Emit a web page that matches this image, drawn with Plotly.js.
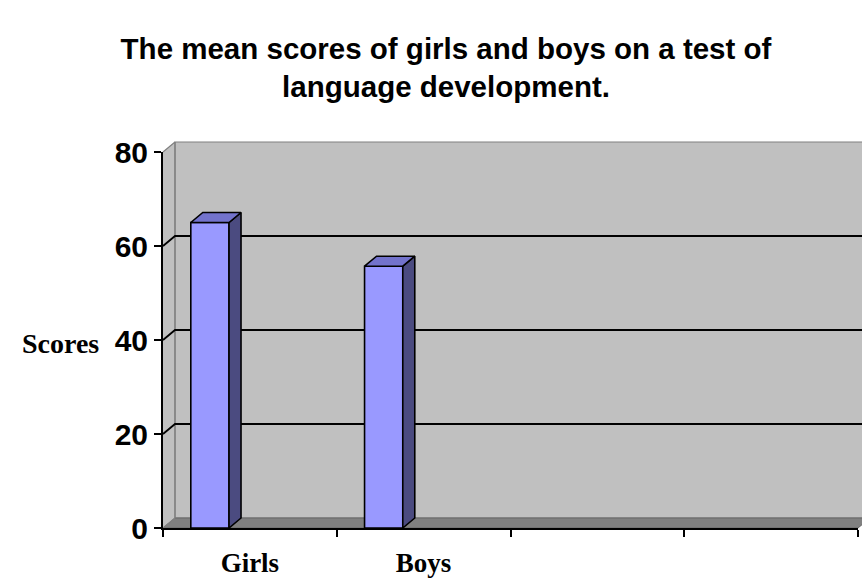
<!DOCTYPE html>
<html>
<head>
<meta charset="utf-8">
<script src="https://cdn.plot.ly/plotly-3.0.1.min.js"></script>
<style>html,body{margin:0;padding:0;background:#fff;}#chart{width:862px;height:580px;}</style>
</head>
<body>
<div id="chart"></div>
<script>
// ---- data ----
const categories = ['Girls', 'Boys'];
const scores = [65, 55.7];
const yTicks = [0, 20, 40, 60, 80];
const xSlots = [0, 1, 2, 3, 4];   // category boundaries (4 slots, 2 used)

// ---- style / geometry constants ----
const W = 695, H = 376;          // plot area size in px
const DX = 12, DY = 10;          // 3D depth offset in px
const XMAX = 4, YMAX = 80;
const BAR_OFFSET = 0.27, BAR_W = 0.22;
const dxp = DX / W, dyp = DY / H;               // depth in paper units
const dxd = dxp * XMAX, dyd = dyp * YMAX;       // depth in data units

const shapes = [];
// left wall
shapes.push({type:'path', xref:'paper', yref:'paper', layer:'below',
  path:`M0,0 L${dxp},${dyp} L${dxp},${1+dyp} L0,1 Z`, fillcolor:'#C0C0C0', line:{width:0}});
// back wall
shapes.push({type:'rect', xref:'paper', yref:'paper', layer:'below',
  x0:dxp, x1:1+dxp, y0:dyp, y1:1+dyp, fillcolor:'#C0C0C0', line:{color:'#808080', width:1.2}});
// floor
shapes.push({type:'path', xref:'paper', yref:'paper', layer:'below',
  path:`M0,0 L${dxp},${dyp} L${1+dxp},${dyp} L1,0 Z`, fillcolor:'#808080', line:{color:'#666666', width:1}});
// wall edges
shapes.push({type:'path', xref:'paper', yref:'paper', layer:'below',
  path:`M0,1 L${dxp},${1+dyp} M${dxp},${dyp} L${dxp},${1+dyp} M0,0 L${dxp},${dyp}`, line:{color:'#808080', width:1.2}});
// gridlines on walls
yTicks.filter(v => v > 0 && v < YMAX).forEach(v => {
  const yp = v / YMAX;
  shapes.push({type:'path', xref:'paper', yref:'paper', layer:'below',
    path:`M0,${yp} L${dxp},${yp+dyp} L${1+dxp},${yp+dyp}`, line:{color:'#000000', width:1.8}});
});

const traces = [];
const barX = categories.map((c, i) => i + BAR_OFFSET);
traces.push({type:'bar', x:barX, y:scores, width:BAR_W,
  marker:{color:'#9999FF', line:{color:'#000000', width:1.6}}, hoverinfo:'skip', showlegend:false});
scores.forEach((v, i) => {
  const xl = barX[i] - BAR_W/2, xr = barX[i] + BAR_W/2;
  // side face
  traces.push({type:'scatter', mode:'lines', fill:'toself', fillcolor:'#4B4B80',
    x:[xr, xr+dxd, xr+dxd, xr, xr], y:[0, dyd, v+dyd, v, 0],
    line:{color:'#000000', width:1.6}, hoverinfo:'skip', showlegend:false});
  // top face
  traces.push({type:'scatter', mode:'lines', fill:'toself', fillcolor:'#7373CC',
    x:[xl, xl+dxd, xr+dxd, xr, xl], y:[v, v+dyd, v+dyd, v, v],
    line:{color:'#000000', width:1.6}, hoverinfo:'skip', showlegend:false});
});

const layout = {
  width:862, height:580,
  margin:{l:163, r:4, t:152, b:52},
  paper_bgcolor:'#ffffff', plot_bgcolor:'rgba(0,0,0,0)',
  showlegend:false,
  title:{text:'The mean scores of girls and boys on a test of<br>language development.',
    font:{family:'Liberation Sans, Arial, sans-serif', size:29.5, color:'#000', weight:700},
    xref:'container', x:446/862, xanchor:'center', yref:'container', y:1-59/580, yanchor:'top'},
  xaxis:{range:[0, XMAX], showgrid:false, zeroline:false, showline:true, linecolor:'#000', linewidth:2,
    tickvals:categories.map((c,i)=>i+0.5), ticktext:categories, ticks:'',
    ticklabelstandoff:10,
    tickfont:{family:'Liberation Serif, Times New Roman, serif', size:27, color:'#000', weight:700},
    minor:{tickvals:xSlots, ticks:'outside', ticklen:7, tickwidth:2, tickcolor:'#000', showgrid:false},
    fixedrange:true},
  yaxis:{range:[0, YMAX], showgrid:false, zeroline:false, showline:true, linecolor:'#000', linewidth:2,
    tickvals:yTicks, ticks:'outside', ticklen:7, tickwidth:2, tickcolor:'#000',
    tickfont:{family:'Liberation Sans, Arial, sans-serif', size:30, color:'#000', weight:700},
    fixedrange:true},
  shapes:shapes,
  annotations:[{text:'Scores', xref:'paper', yref:'paper', x:(60-163)/W, y:(528-343)/H,
    xanchor:'center', yanchor:'middle', showarrow:false,
    font:{family:'Liberation Serif, Times New Roman, serif', size:28, color:'#000', weight:700}}]
};

Plotly.newPlot('chart', traces, layout, {displayModeBar:false, staticPlot:true});
</script>
</body>
</html>
